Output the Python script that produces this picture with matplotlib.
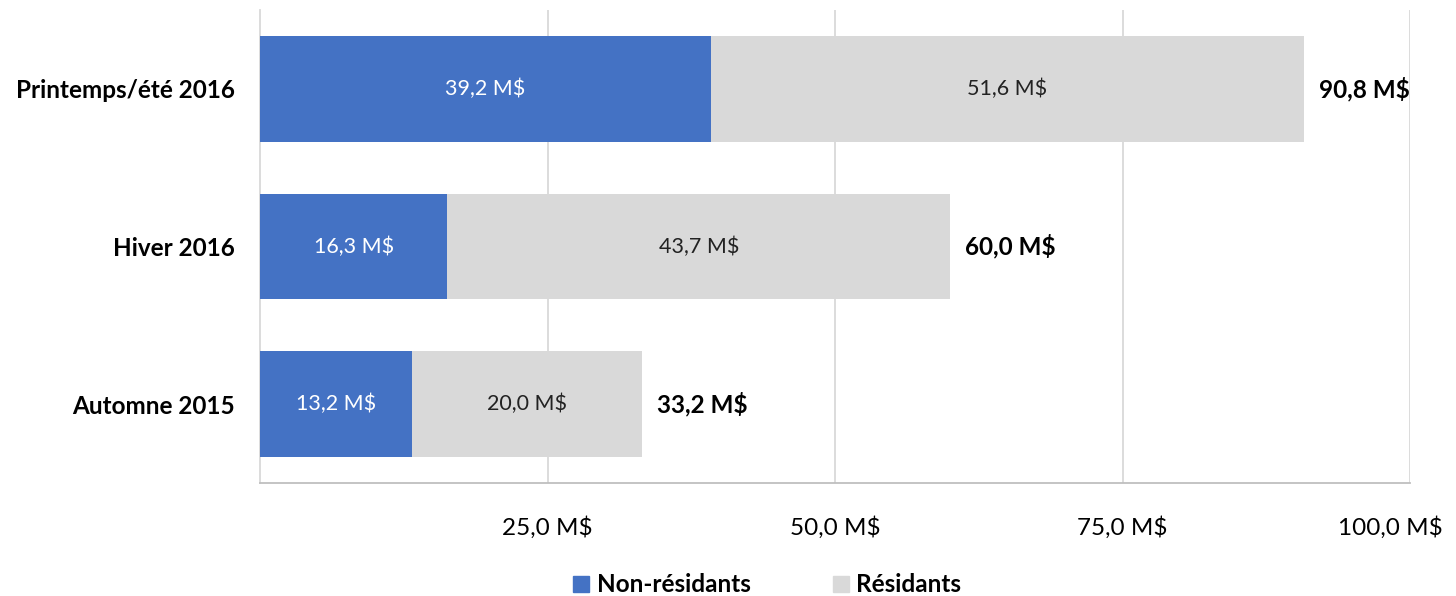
import matplotlib
matplotlib.use("Agg")
import matplotlib.pyplot as plt
import matplotlib.transforms as mtransforms
from matplotlib.patches import Patch
import numpy as np

# ---------------- data ----------------
categories = ["Automne 2015", "Hiver 2016", "Printemps/été 2016"]
non_residents = [13.2, 16.3, 39.2]
residents = [20.0, 43.7, 51.6]
totals = [33.2, 60.0, 90.8]
xticks = [25, 50, 75, 100]
xtick_labels = ["25,0 M$", "50,0 M$", "75,0 M$", "100,0 M$"]

BLUE = "#4472C4"
GREY = "#D9D9D9"

plt.rcParams["font.family"] = ["Lato", "DejaVu Sans"]

def fmt(v):
    return f"{v:.1f}".replace(".", ",") + " M$"

fig = plt.figure(figsize=(14.56, 5.96), dpi=100)
ax = fig.add_axes([260/1456, 113/596, 1150/1456, 473/596])

y = np.arange(len(categories))
h = 0.67
ax.barh(y, non_residents, height=h, color=BLUE, zorder=3)
ax.barh(y, residents, left=non_residents, height=h, color=GREY, zorder=3)

for i in range(len(categories)):
    ax.text(non_residents[i] / 2, y[i], fmt(non_residents[i]), ha="center", va="center",
            color="white", fontsize=15.5, zorder=4)
    ax.text(non_residents[i] + residents[i] / 2, y[i], fmt(residents[i]), ha="center", va="center",
            color="#222222", fontsize=15.5, zorder=4)
    ax.annotate(fmt(totals[i]), (totals[i], y[i]), xytext=(11, 0), textcoords="offset points",
                ha="left", va="center", fontsize=17.5, fontweight="bold", color="black")

ax.set_xlim(0, 100)
ax.set_ylim(-0.5, 2.5)
ax.set_xticks(xticks)
ax.set_xticklabels(xtick_labels, fontsize=17.5)
ax.set_yticks(y)
ax.set_yticklabels(categories, fontsize=17.5, fontweight="bold")
ax.tick_params(axis="x", length=0, pad=24)
ax.tick_params(axis="y", length=0, pad=18)
ax.grid(axis="x", color=GREY, linewidth=1.3, zorder=0)

# last tick label pulled inside the figure, like the original
last = ax.get_xticklabels()[-1]
last.set_transform(last.get_transform() + mtransforms.ScaledTranslation(-20/100, 0, fig.dpi_scale_trans))

for s in ["top", "right"]:
    ax.spines[s].set_visible(False)
ax.spines["left"].set_color(GREY)
ax.spines["left"].set_linewidth(1.3)
ax.spines["bottom"].set_color("#BFBFBF")
ax.spines["bottom"].set_linewidth(1.3)

handles = [Patch(color=BLUE, label="Non-résidants"), Patch(color=GREY, label="Résidants")]
fig.legend(handles=handles, loc="center", bbox_to_anchor=(0.527, 1 - 585/596), ncol=2,
           frameon=False, prop={"size": 17.5, "weight": "bold"}, handlelength=0.65,
           handleheight=0.65, handletextpad=0.3, columnspacing=3.4)

fig.savefig("out.png", dpi=100)
